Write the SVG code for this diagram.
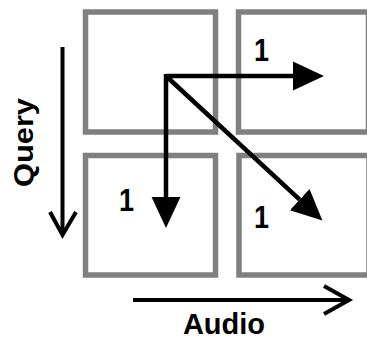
<svg xmlns="http://www.w3.org/2000/svg" width="367" height="340" viewBox="0 0 367 340">
<style>
.cell{fill:#ffffff;stroke:#808080;stroke-width:5.5}
.ln{fill:none;stroke:#000;stroke-width:4.5}
.ax{fill:none;stroke:#000;stroke-width:4;stroke-linejoin:miter}
.t{font-family:"Liberation Sans",Arial,sans-serif;font-weight:bold;fill:#000}
</style>
<defs>
<marker id="head" markerUnits="userSpaceOnUse" markerWidth="32" markerHeight="32" viewBox="0 -15 31 30" refX="0" refY="0" orient="auto">
<path d="M0,-14 L30,0 L0,14 z" fill="#000"/>
</marker>
</defs>
<rect width="367" height="340" fill="#fff"/>
<g id="cell-00"><rect class="cell" x="85.5" y="12" width="130" height="120"/></g>
<g id="cell-01"><rect class="cell" x="238.5" y="12" width="130" height="120"/>
<text class="t" transform="translate(254,60.5) scale(1,1.15)" font-size="27">1</text></g>
<g id="cell-10"><rect class="cell" x="85.5" y="155.5" width="130" height="119.5"/>
<text class="t" transform="translate(119,210.5) scale(1,1.15)" font-size="27">1</text></g>
<g id="cell-11"><rect class="cell" x="239" y="155.5" width="130" height="119.5"/>
<text class="t" transform="translate(254,228) scale(1,1.15)" font-size="27">1</text></g>
<g id="connectors">
<line class="ln" x1="166" y1="76" x2="293" y2="76" marker-end="url(#head)"/>
<line class="ln" x1="166" y1="74" x2="166" y2="197" marker-end="url(#head)"/>
<line class="ln" x1="166" y1="76" x2="299.7" y2="199.6" marker-end="url(#head)"/>
<line class="ax" x1="62.5" y1="47" x2="62.5" y2="234"/>
<polyline class="ax" points="50,212 62.5,235 76,212"/>
<line class="ax" x1="133" y1="300" x2="348" y2="300"/>
<polyline class="ax" points="324,286 349,300 324,314"/>
</g>
<g id="labels">
<text class="t" x="224" y="333.5" font-size="29" text-anchor="middle">Audio</text>
<text class="t" transform="translate(32.5,142.5) rotate(-90) scale(1.14,1)" font-size="27" text-anchor="middle">Query</text>
</g>
</svg>
